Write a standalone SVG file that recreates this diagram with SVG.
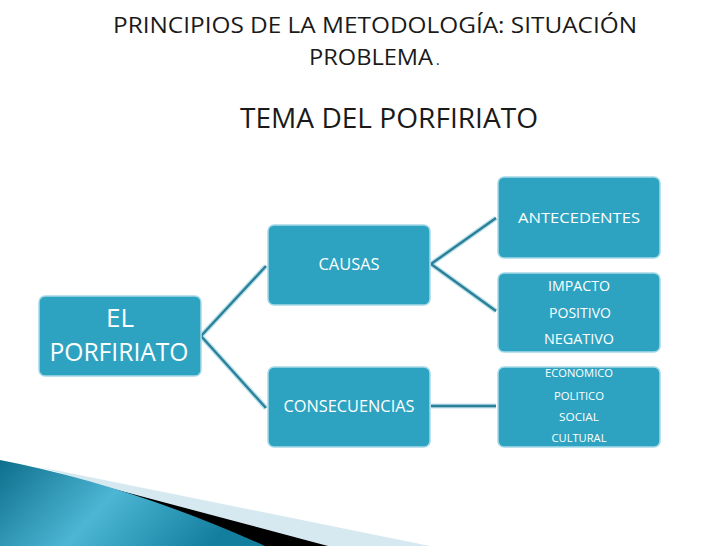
<svg xmlns="http://www.w3.org/2000/svg" width="728" height="546" viewBox="0 0 728 546">
<style>
.t{font-family:"Open Sans","Liberation Sans",sans-serif;fill:#1a1a1a}
.box{fill:#2da3c1;stroke:#a6dae7;stroke-width:1.5}
.bt{font-family:"Open Sans","Liberation Sans",sans-serif;fill:#ffffff;text-anchor:middle}
.cl{fill:none;stroke:#b9e1eb;stroke-width:5;stroke-linecap:butt}
.cd{fill:none;stroke:#2b7f98;stroke-width:2.4;stroke-linecap:butt}
</style>
<defs>
<linearGradient id="teal" x1="0" y1="0" x2="1" y2="0.3">
<stop offset="0" stop-color="#0d6f8c"/>
<stop offset="0.5" stop-color="#4cb6d4"/>
<stop offset="1" stop-color="#137e9e"/>
</linearGradient>
</defs>
<rect width="728" height="546" fill="#ffffff"/>

<g id="titles">
<text class="t" x="113" y="33" font-size="22" textLength="524" lengthAdjust="spacingAndGlyphs">PRINCIPIOS DE LA METODOLOGÍA: SITUACIÓN</text>
<text class="t" x="309" y="65" font-size="22"><tspan textLength="124" lengthAdjust="spacingAndGlyphs">PROBLEMA</tspan><tspan font-size="14" dx="3">.</tspan></text>
<text class="t" x="240" y="128" font-size="28" textLength="298" lengthAdjust="spacingAndGlyphs">TEMA DEL PORFIRIATO</text>
</g>

<g id="swoosh">
<path d="M40,467 L430,546 L300,546 Z" fill="#d6e9f1"/>
<path d="M35,468 L328,546 L250,546 Z" fill="#000000"/>
<path d="M0,460 Q130,485 265,546 L0,546 Z" fill="url(#teal)"/>
</g>

<g id="connectors">
<path class="cl" d="M201,336 L266,266 M201,336 L266,408"/>
<path class="cd" d="M201,336 L266,266 M201,336 L266,408"/>
<path class="cl" d="M431,264 L496,218 M431,264 L496,311"/>
<path class="cd" d="M431,264 L496,218 M431,264 L496,311"/>
<path class="cl" d="M431,406 L496,406"/>
<path class="cd" d="M431,406 L496,406"/>
</g>

<g id="node-porfiriato">
<rect class="box" x="39" y="296" width="162" height="80" rx="6"/>
<text class="bt" x="120" y="327" font-size="26">EL</text>
<text class="bt" x="119" y="361" font-size="26" textLength="139" lengthAdjust="spacingAndGlyphs">PORFIRIATO</text>
</g>

<g id="node-causas">
<rect class="box" x="268" y="225" width="162" height="80" rx="6"/>
<text class="bt" x="349" y="270" font-size="16.5" textLength="61" lengthAdjust="spacingAndGlyphs">CAUSAS</text>
</g>

<g id="node-consecuencias">
<rect class="box" x="268" y="367" width="162" height="80" rx="6"/>
<text class="bt" x="349" y="412" font-size="16.5" textLength="131" lengthAdjust="spacingAndGlyphs">CONSECUENCIAS</text>
</g>

<g id="node-antecedentes">
<rect class="box" x="498" y="177" width="162" height="81" rx="6"/>
<text class="bt" x="579" y="223" font-size="14" textLength="122" lengthAdjust="spacingAndGlyphs">ANTECEDENTES</text>
</g>

<g id="node-impacto">
<rect class="box" x="498" y="273" width="162" height="79" rx="6"/>
<text class="bt" x="579" y="291" font-size="14.5" textLength="62" lengthAdjust="spacingAndGlyphs">IMPACTO</text>
<text class="bt" x="580" y="318" font-size="14.5" textLength="62" lengthAdjust="spacingAndGlyphs">POSITIVO</text>
<text class="bt" x="579" y="344" font-size="14.5" textLength="70" lengthAdjust="spacingAndGlyphs">NEGATIVO</text>
</g>

<g id="node-economico">
<rect class="box" x="498" y="367" width="162" height="80" rx="6"/>
<text class="bt" x="579" y="377" font-size="11" textLength="68" lengthAdjust="spacingAndGlyphs">ECONOMICO</text>
<text class="bt" x="579" y="400" font-size="11" textLength="50" lengthAdjust="spacingAndGlyphs">POLITICO</text>
<text class="bt" x="579" y="421" font-size="11" textLength="40" lengthAdjust="spacingAndGlyphs">SOCIAL</text>
<text class="bt" x="579" y="442" font-size="11" textLength="55" lengthAdjust="spacingAndGlyphs">CULTURAL</text>
</g>
</svg>
